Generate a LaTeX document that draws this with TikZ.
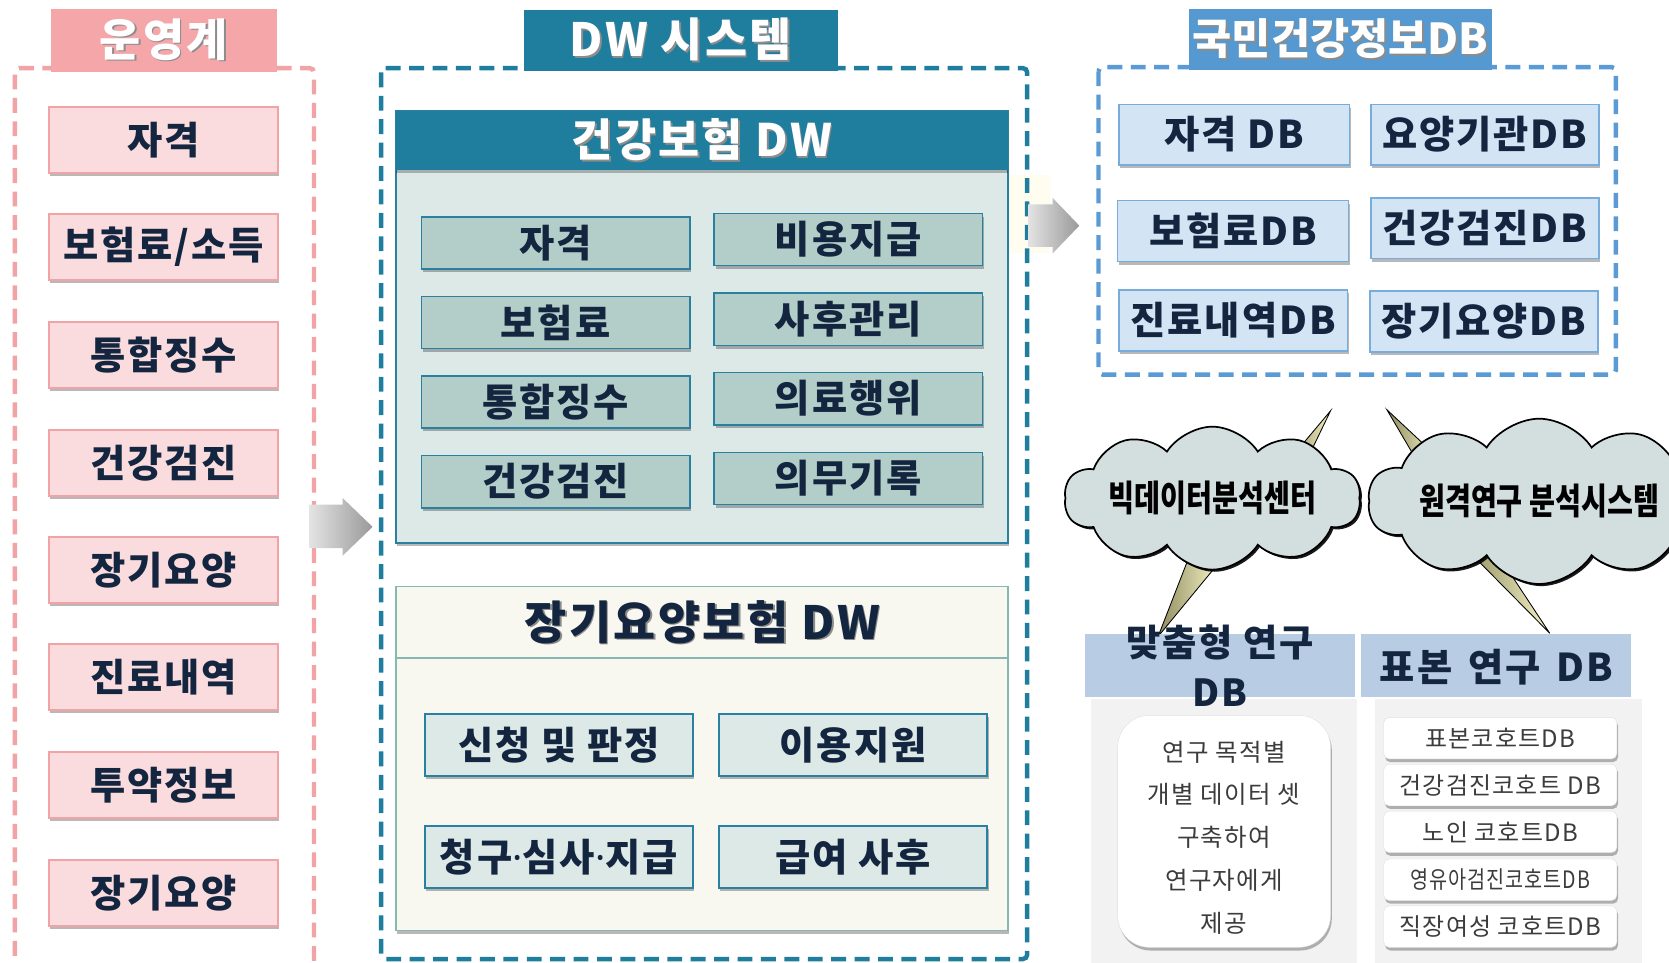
\documentclass[tikz,border=0pt]{standalone}
\usepackage{fontspec}
\usepackage{graphicx}
\setmainfont{Noto Sans CJK KR}
\newfontfamily\krsp{Noto Sans CJK KR}[LetterSpace=5]
\newfontfamily\latinf{Noto Sans}
\usetikzlibrary{shapes.symbols,shadows,calc}
\definecolor{navy}{HTML}{14263F}
\definecolor{pinkT}{HTML}{F4A6A9}
\definecolor{pinkF}{HTML}{FADCDE}
\definecolor{pinkB}{HTML}{F2A3A6}
\definecolor{tealT}{HTML}{1F7E9E}
\definecolor{tealBody}{HTML}{DDE9E7}
\definecolor{tealBox}{HTML}{B3CEC8}
\definecolor{tealLine}{HTML}{2A80A0}
\definecolor{creamF}{HTML}{F8F8F1}
\definecolor{creamB}{HTML}{86B8B1}
\definecolor{blueT}{HTML}{5599D0}
\definecolor{blueFrame}{HTML}{5B9BD5}
\definecolor{dbF}{HTML}{D3E4F4}
\definecolor{dbB}{HTML}{78ACDC}
\definecolor{hdrB}{HTML}{B8CCE4}
\definecolor{panelG}{HTML}{F2F2F2}
\definecolor{cloudF}{HTML}{D3DEDF}
\definecolor{txtG}{HTML}{3C3C3C}
\definecolor{wedgeL}{HTML}{F4F1C6}
\definecolor{wedgeD}{HTML}{8E8B5E}
\definecolor{paleY}{HTML}{FFFDF0}
\newcommand\tshadow[1]{\makebox[0pt][l]{\raisebox{-1.5pt}{\hspace{1.5pt}\textcolor{black!45}{#1}}}#1}
\newcommand\cond[1]{\scalebox{0.78}[1]{#1}}
\newcommand\mdot{{\latinf\bfseries ·}}
\begin{document}
\begin{tikzpicture}[x=1pt,y=-1pt,
  every node/.style={inner sep=0pt, text=navy},
  boxshadow/.style={drop shadow={shadow xshift=1.2pt, shadow yshift=-3pt, opacity=0.28, fill=black}},
  frame/.style={line width=4.2pt, dash pattern=on 14pt off 8pt, rounded corners=4pt},
  titlebox/.style={text=white, font=\krsp\fontsize{42}{46}\selectfont\bfseries},
  boxfont/.style={font=\krsp\fontsize{36}{40}\selectfont\bfseries},
  pinkbox/.style={draw=pinkB, fill=pinkF, line width=1.5pt, minimum width=215pt, minimum height=62pt, boxfont, boxshadow},
  hbox/.style={draw=tealLine, fill=tealBox, line width=1.6pt, minimum width=252pt, minimum height=49pt, boxfont, boxshadow},
  lbox/.style={draw=tealLine, fill=tealBody, line width=1.6pt, minimum width=252pt, minimum height=58pt, boxfont, boxshadow},
  dbbox/.style={draw=dbB, fill=dbF, line width=1.5pt, minimum height=57pt, boxfont, boxshadow},
  cloudst/.style={cloud, cloud puffs=10, cloud puff arc=115, aspect=3, draw=black, line width=1.6pt, fill=cloudF, font=\fontsize{34}{36}\selectfont\bfseries, text=black,
     drop shadow={shadow xshift=2pt, shadow yshift=-2pt, opacity=0.9, fill=black}},
  wedge/.style={draw=black, line width=0.8pt, left color=wedgeD, right color=wedgeL},
  hdr/.style={fill=hdrB, minimum height=59pt},
  cohort/.style={draw=black!12, fill=white, rounded corners=5pt, minimum width=219pt, minimum height=39pt, font=\krsp\fontsize{22.5}{24}\selectfont, text=txtG, boxshadow}
]
\useasboundingbox (0,0) rectangle (1568,904);
\fill[white] (0,0) rectangle (1568,904);

% ---------------- left: operation system
\draw[frame, draw=pinkB] (14,920) -- (14,64) -- (295,64) -- (295,920);
\node[fill=pinkT, minimum width=212pt, minimum height=59pt, titlebox] (opT) at (154,38) {\tshadow{운영계}};
\node[pinkbox] (o1) at (153.5,131.5) {자격};
\node[pinkbox] (o2) at (153.5,232) {보험료/소득};
\node[pinkbox] (o3) at (153.5,333.5) {통합징수};
\node[pinkbox] (o4) at (153.5,435) {건강검진};
\node[pinkbox] (o5) at (153.5,535.5) {장기요양};
\node[pinkbox] (o6) at (153.5,636) {진료내역};
\node[pinkbox] (o7) at (153.5,737.5) {투약정보};
\node[pinkbox] (o8) at (153.5,839) {장기요양};

% ---------------- middle: DW system
\fill[paleY] (949,164) rectangle (986,238);
\draw[frame, draw=tealT] (358,64) rectangle (965,901);
\node[fill=tealT, minimum width=295pt, minimum height=57pt, titlebox, font=\krsp\fontsize{43}{46}\selectfont\bfseries] (dwT) at (639.5,38) {\tshadow{DW 시스템}};

% health insurance DW
\node[draw=tealLine, fill=tealBody, line width=1.5pt, minimum width=575pt, minimum height=406pt, boxshadow] (hp) at (659.5,307) {};
\node[fill=tealT, minimum width=575pt, minimum height=56pt, titlebox, font=\krsp\fontsize{42}{46}\selectfont\bfseries, drop shadow={shadow xshift=0pt, shadow yshift=-3pt, opacity=0.25, fill=black}] (hpT) at (659.5,132) {\tshadow{건강보험 DW}};
\node[hbox] (h1) at (522,228.5) {자격};
\node[hbox] (h2) at (797,225) {비용지급};
\node[hbox] (h3) at (522,303) {보험료};
\node[hbox] (h4) at (797,300) {사후관리};
\node[hbox] (h5) at (522,377.5) {통합징수};
\node[hbox] (h6) at (797,374.5) {의료행위};
\node[hbox] (h7) at (522,452.5) {건강검진};
\node[hbox] (h8) at (797,449.5) {의무기록};

% long-term care DW
\node[draw=creamB, fill=creamF, line width=1.5pt, minimum width=575pt, minimum height=323pt, boxshadow] (lp) at (659.5,712.5) {};
\draw[creamB, line width=1.5pt] (lp.west |- 0,618) -- (lp.east |- 0,618);
\node[font=\krsp\fontsize{43}{46}\selectfont\bfseries] (lpT) at (660,585) {\tshadow{장기요양보험 DW}};
\node[lbox] (l1) at (525,700) {신청 및 판정};
\node[lbox] (l2) at (801.5,700) {이용지원};
\node[lbox] (l3) at (525,805) {청구\mdot 심사\mdot 지급};
\node[lbox] (l4) at (801.5,805) {급여 사후};

% arrows
\shade[left color=gray!22, right color=gray!80] (291,474) -- (322,474) -- (322,468) -- (350,495) -- (322,522) -- (322,515) -- (291,515) -- cycle;
\shade[left color=gray!22, right color=gray!80] (966,192) -- (989,192) -- (989,186) -- (1014,212) -- (989,238) -- (989,232) -- (966,232) -- cycle;

% ---------------- right: national health DB
\draw[frame, draw=blueFrame] (1032,63) rectangle (1518,352);
\node[fill=blueT, minimum width=285pt, minimum height=58pt, titlebox, font=\fontsize{40}{44}\selectfont\bfseries] (nT) at (1259.5,37) {\tshadow{국민건강정보DB}};
\node[dbbox, minimum width=217pt] (d1) at (1159.5,126.5) {자격 DB};
\node[dbbox, minimum width=214pt] (d2) at (1395,126.5) {요양기관DB};
\node[dbbox, minimum width=217pt] (d3) at (1158.5,217) {보험료DB};
\node[dbbox, minimum width=214pt] (d4) at (1395,214.5) {건강검진DB};
\node[dbbox, minimum width=215pt] (d5) at (1158.5,301) {진료내역DB};
\node[dbbox, minimum width=214pt] (d6) at (1394,302) {장기요양DB};

% callout wedges
\draw[wedge] (1250,386) -- (1208,436) -- (1224,440) -- cycle;
\draw[wedge] (1116,526) -- (1144,530) -- (1088,598) -- cycle;
\draw[wedge] (1303,385) -- (1333,436) -- (1349,428) -- cycle;
\draw[wedge] (1372,510) -- (1396,504) -- (1456,595) -- cycle;

% clouds
\node[cloudst, minimum width=258pt, minimum height=118pt] (c1) at (1139,468) {\cond{빅데이터분석센터}};
\node[cloudst, minimum width=262pt, minimum height=122pt] (c2) at (1446,471) {\cond{원격연구 분석시스템}};

% research DB headers and panels
\fill[panelG] (1025,657) rectangle (1275,910);
\fill[panelG] (1292,657) rectangle (1543,910);
\node[hdr, minimum width=254pt] (r1) at (1146,625.5) {};
\node[hdr, minimum width=253pt] (r2) at (1405.5,625.5) {};
\node[align=center, font=\krsp\fontsize{35}{47}\selectfont\bfseries] (r1t) at (r1.center) {맞춤형 연구\\DB};
\node[font=\krsp\fontsize{36}{40}\selectfont\bfseries] (r2t) at (1406,627) {표본\hspace{5pt} 연구\hspace{5pt} DB};

\node[draw=black!12, fill=white, rounded corners=30pt, minimum width=200pt, minimum height=218pt, boxshadow] (cu) at (1150,781) {};
\node[align=center, font=\krsp\fontsize{23}{40.3}\selectfont, text=txtG] (cut) at (1150,787) {연구 목적별\\개별 데이터 셋\\구축하여\\연구자에게\\제공};

\node[cohort] (k1) at (1409.5,693.5) {표본코호트DB};
\node[cohort] (k2) at (1409.5,737.5) {건강검진코호트 DB};
\node[cohort] (k3) at (1409.5,781.5) {노인 코호트DB};
\node[cohort] (k4) at (1409.5,826.5) {\scalebox{0.82}[1]{영유아검진코호트DB}};
\node[cohort] (k5) at (1409.5,870.5) {직장여성 코호트DB};
\end{tikzpicture}
\end{document}
